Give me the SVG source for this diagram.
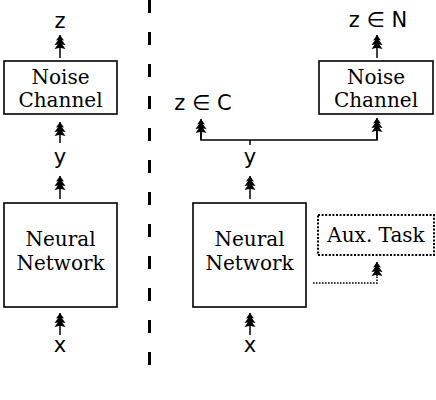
<svg xmlns="http://www.w3.org/2000/svg" width="436" height="400" viewBox="0 0 436 400">
<style>
.box{fill:#fff;stroke:#000;stroke-width:1.6}
.dot{fill:#fff;stroke:#000;stroke-width:2;stroke-dasharray:2 1.6}
.nt{font-family:"DejaVu Serif",serif;font-size:20px;fill:#000;text-anchor:middle}
.lb{font-family:"DejaVu Sans",sans-serif;font-size:21px;fill:#000;text-anchor:middle}
.ln{fill:none;stroke:#000;stroke-width:1.5}
.dl{fill:none;stroke:#000;stroke-width:1.6;stroke-dasharray:1.6 1.4}
</style>
<defs>
<marker id="ah" markerUnits="userSpaceOnUse" viewBox="-1 -7 16 14" markerWidth="16" markerHeight="14" refX="14" refY="0" orient="auto" overflow="visible">
<path d="M14,0 L8.5,-4 L9,-1.8 L4,-5.5 L4.5,-2.2 L0,-5.5 L1,-1 L1,1 L0,5.5 L4.5,2.2 L4,5.5 L9,1.8 L8.5,4 Z" fill="#000"/>
</marker>
</defs>
<line x1="149.5" y1="0" x2="149.5" y2="366" stroke="#000" stroke-width="3" stroke-dasharray="13 19"/>
<g id="connectors">
<line class="ln" x1="60" y1="58" x2="60" y2="35" marker-end="url(#ah)"/>
<line class="ln" x1="60" y1="143" x2="60" y2="122" marker-end="url(#ah)"/>
<line class="ln" x1="60" y1="199" x2="60" y2="176" marker-end="url(#ah)"/>
<line class="ln" x1="60" y1="335" x2="60" y2="313" marker-end="url(#ah)"/>
<line class="ln" x1="250" y1="199" x2="250" y2="176" marker-end="url(#ah)"/>
<line class="ln" x1="250" y1="335" x2="250" y2="313" marker-end="url(#ah)"/>
<line class="ln" x1="250" y1="140" x2="250" y2="145"/>
<polyline class="ln" points="201,125 201,140 377,140 377,125"/>
<line class="ln" x1="201" y1="140" x2="201" y2="119" marker-end="url(#ah)"/>
<line class="ln" x1="377" y1="140" x2="377" y2="118" marker-end="url(#ah)"/>
<line class="ln" x1="377" y1="58" x2="377" y2="35" marker-end="url(#ah)"/>
<polyline class="dl" points="313,283 377,283 377,272"/>
<line class="ln" x1="377" y1="276" x2="377" y2="262" marker-end="url(#ah)"/>
</g>
<g id="labels">
<text class="lb" x="60" y="28">z</text>
<text class="lb" x="60" y="164">y</text>
<text class="lb" x="60" y="352">x</text>
<text class="lb" x="250" y="164">y</text>
<text class="lb" x="250" y="352">x</text>
<text class="lb" x="203" y="110">z ∈ C</text>
<text class="lb" x="378" y="27">z ∈ N</text>
</g>
<g id="noise-left">
<rect class="box" x="4" y="61" width="113" height="53"/>
<text class="nt" x="60.5" y="84">Noise</text>
<text class="nt" x="60.5" y="107">Channel</text>
</g>
<g id="nn-left">
<rect class="box" x="4" y="203" width="113" height="104"/>
<text class="nt" x="60.5" y="246">Neural</text>
<text class="nt" x="60.5" y="270">Network</text>
</g>
<g id="nn-right">
<rect class="box" x="193" y="203" width="113" height="104"/>
<text class="nt" x="249.5" y="246">Neural</text>
<text class="nt" x="249.5" y="270">Network</text>
</g>
<g id="noise-right">
<rect class="box" x="319" y="61" width="114" height="53"/>
<text class="nt" x="376" y="84">Noise</text>
<text class="nt" x="376" y="107">Channel</text>
</g>
<g id="aux">
<rect class="dot" x="318" y="215" width="116" height="40"/>
<text class="nt" x="376" y="242">Aux. Task</text>
</g>
</svg>
